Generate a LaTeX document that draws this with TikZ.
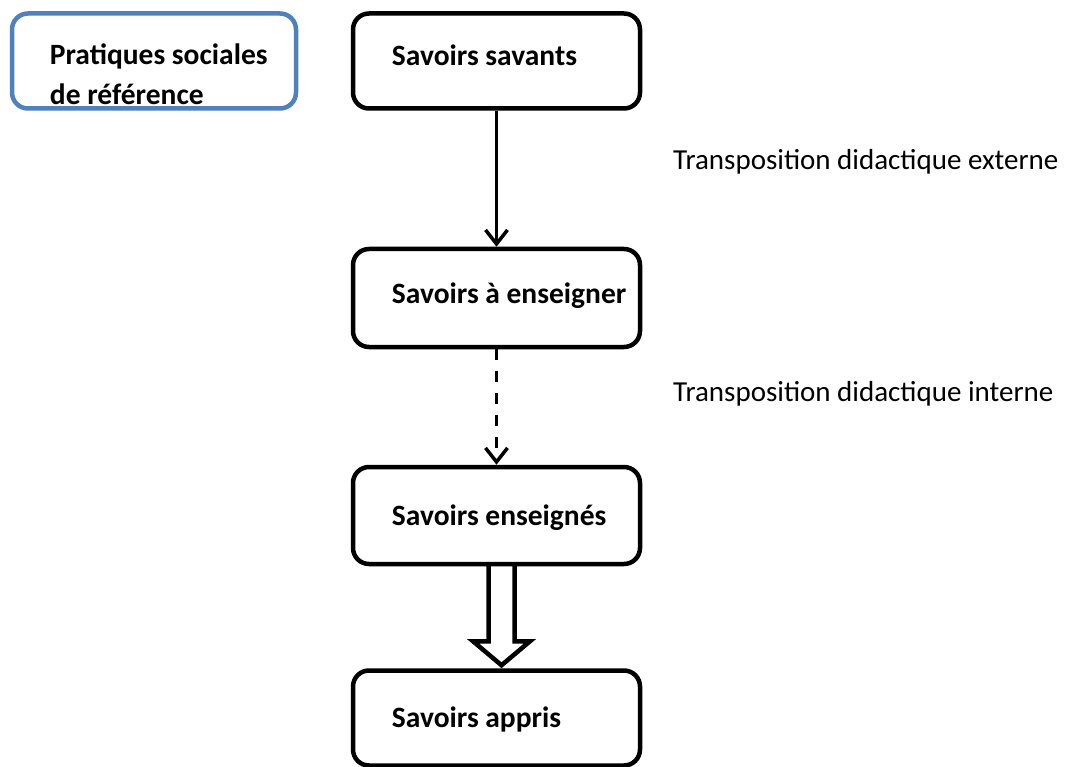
\documentclass[tikz,border=0pt]{standalone}
\usepackage{fontspec}
\setmainfont{Carlito}
\usetikzlibrary{arrows.meta,calc}
\definecolor{refblue}{RGB}{79,129,189}

\begin{document}
\begin{tikzpicture}[x=1pt,y=-1pt,
  box/.style={draw, line width=4.5pt, rounded corners=16pt, minimum width=287pt, minimum height=95pt, inner sep=0pt},
  boxtext/.style={anchor=base west, inner sep=0pt, align=left, font=\fontsize{29.5}{40}\selectfont\bfseries},
  steptext/.style={anchor=base west, inner sep=0pt, font=\fontsize{29}{38}\selectfont},
  flow/.style={line width=3.5pt, -{Straight Barb[length=14pt,width=22pt]}},
  hollow/.style={line width=4.5pt, line join=miter}]
\useasboundingbox (0,0) rectangle (1070,767);

\node[box, draw=refblue, minimum width=284pt] (pratiques) at (154,61) {};
\node[boxtext] (pratiques text) at ($(pratiques.west)+(40,44)$) {Pratiques sociales\\de référence};

\node[box] (savants) at (496.5,61) {};
\node[box, minimum height=98pt] (enseigner) at (496.5,298) {};
\node[box, minimum height=97pt] (enseignes) at (496.5,515.5) {};
\node[box] (appris) at (496.5,718) {};

\node[boxtext] (savants text) at ($(savants.west)+(41,5)$) {Savoirs savants};
\node[boxtext] (enseigner text) at ($(enseigner.west)+(41,5)$) {Savoirs à enseigner};
\node[boxtext] (enseignes text) at ($(enseignes.west)+(41,9.5)$) {Savoirs enseignés};
\node[boxtext] (appris text) at ($(appris.west)+(41,9)$) {Savoirs appris};

\node[steptext] (externe) at (673,170) {Transposition didactique externe};
\node[steptext] (interne) at (673,401) {Transposition didactique interne};

\draw[flow] (savants) -- (enseigner);
\draw[flow, dash pattern=on 11pt off 11pt] (enseigner) -- (enseignes);

% block arrow
\coordinate (tail) at ($(enseignes.south)+(5,-2)$);
\coordinate (tip) at ($(appris.north)+(5,-3)$);
\draw[hollow] ($(tail)+(-13,0)$) -- ($(tip)+(-13,-24)$) -- ($(tip)+(-28.5,-24)$) -- (tip)
  -- ($(tip)+(28.5,-24)$) -- ($(tip)+(13,-24)$) -- ($(tail)+(13,0)$);
\end{tikzpicture}
\end{document}
